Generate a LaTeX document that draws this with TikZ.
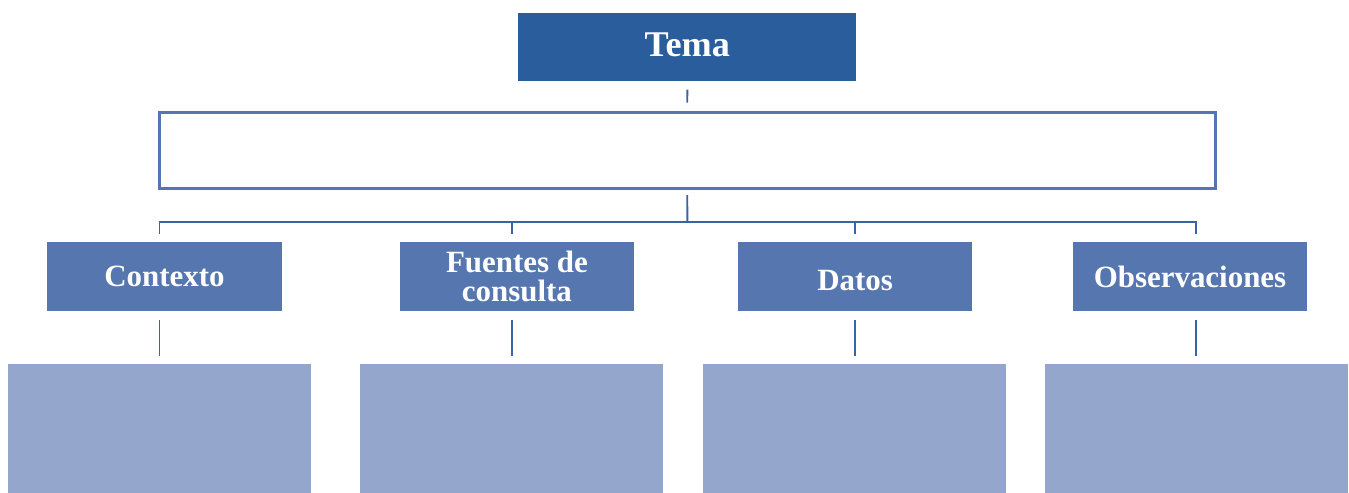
\documentclass[tikz,border=0pt]{standalone}
\usepackage{fontspec}
\setmainfont{Liberation Serif}
\usepackage{tikz}
\usetikzlibrary{positioning}

\definecolor{temaBlue}{RGB}{42,93,156}
\definecolor{midBlue}{RGB}{86,118,175}
\definecolor{paleBlue}{RGB}{149,166,205}
\definecolor{lineBlue}{RGB}{56,99,166}
\definecolor{frameBlue}{RGB}{84,116,178}

\begin{document}
\begin{tikzpicture}[
    x=0.02cm, y=-0.02cm,
    temabox/.style={rectangle, fill=temaBlue, text=white, font=\fontsize{20.6}{24}\selectfont\bfseries, minimum width=6.76cm, minimum height=1.366cm},
    topicbox/.style={rectangle, fill=midBlue, text=white, font=\fontsize{17.6}{16.2}\selectfont\bfseries, align=center, minimum width=4.69cm, minimum height=1.374cm, inner sep=2pt},
    fillbox/.style={rectangle, fill=paleBlue, minimum width=6.05cm, minimum height=2.58cm},
    bigframe/.style={rectangle, draw=frameBlue, line width=1.6pt, minimum width=21.12cm, minimum height=1.524cm},
    conn/.style={draw=lineBlue, line width=1.1pt}
]
\useasboundingbox (0,0) rectangle (1349,493);

% Top level
\node[temabox, text depth=3pt] (tema) at (687.3,46.8) {Tema};
\node[bigframe] (frame) at (687.25,150.6) {};

% Second level
\node[topicbox] (ctx) at (164.5,276.6) {Contexto};
\node[topicbox] (fue) at (516.9,276.6) {Fuentes de\\consulta};
\node[topicbox, text height=16pt] (dat) at (855.1,276.6) {Datos};
\node[topicbox] (obs) at (1190,276.6) {Observaciones};

% Empty boxes
\node[fillbox] (fill-ctx) at (159.5,428.5) {};
\node[fillbox] (fill-fue) at (511.7,428.5) {};
\node[fillbox] (fill-dat) at (854.7,428.5) {};
\node[fillbox] (fill-obs) at (1196.3,428.5) {};

% Connectors
\coordinate (bus) at (687.3,221.8);
\draw[conn, shorten <=0.166cm, shorten >=0.17cm] (tema.south) -- (frame.north);
\draw[conn, shorten <=0.1cm] (frame.south) -- (bus);
\foreach \n in {ctx,fue,dat,obs}
    \draw[conn, shorten >=0.166cm] (bus) -| (fill-\n.north |- \n.north);
\foreach \n in {ctx,fue,dat,obs}
    \draw[conn, shorten <=0.166cm, shorten >=0.16cm] (fill-\n.north |- \n.south) -- (fill-\n.north);
\end{tikzpicture}
\end{document}
